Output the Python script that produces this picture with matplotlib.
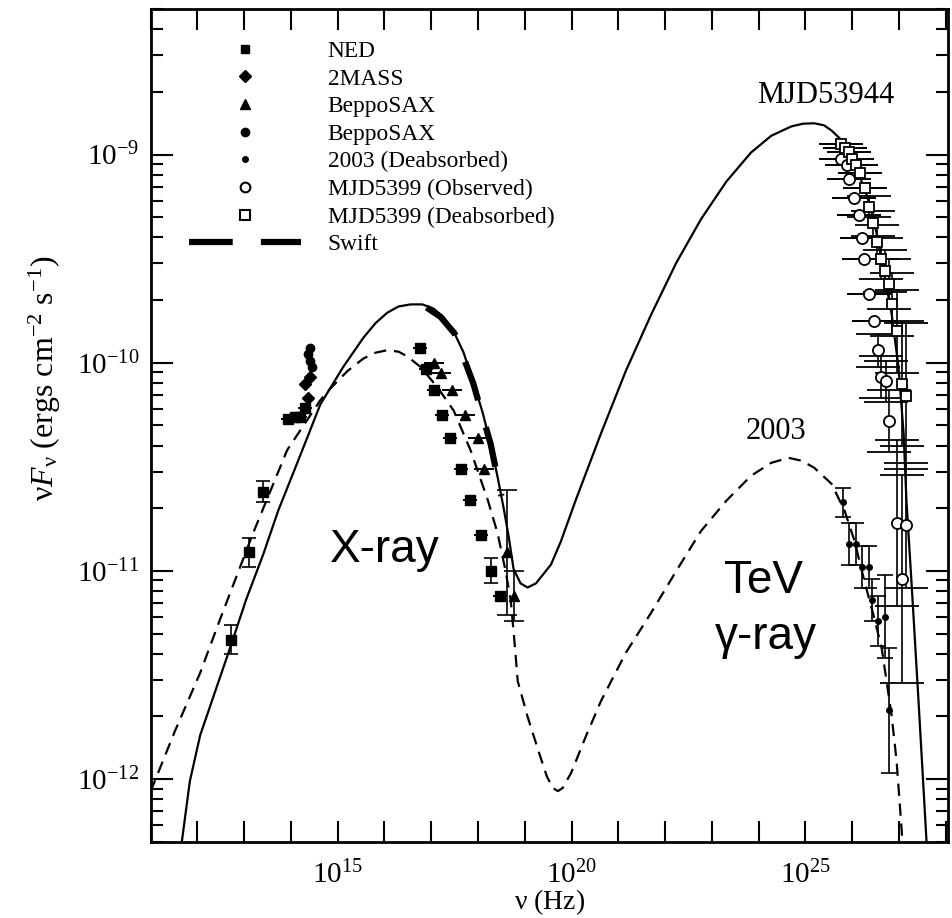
import numpy as np
import matplotlib
matplotlib.use("Agg")
import matplotlib.pyplot as plt
from matplotlib.lines import Line2D
from matplotlib.ticker import FixedLocator, NullLocator, LogLocator, FixedFormatter, NullFormatter

plt.rcParams['font.family'] = ['Liberation Serif', 'DejaVu Serif']
plt.rcParams['mathtext.fontset'] = 'custom'
plt.rcParams['mathtext.rm'] = 'Liberation Serif'
plt.rcParams['mathtext.it'] = 'Liberation Serif:italic'
plt.rcParams['mathtext.bf'] = 'Liberation Serif:bold'

# all values are log10(nu / Hz) and log10(nuFnu / erg cm^-2 s^-1)

# model MJD53944 (solid)
mjd_lognu = [11.58, 11.84, 12.06, 12.38, 12.70, 13.04, 13.41, 13.73, 14.05, 14.35,
             14.63, 15.12, 15.55, 15.81, 16.06, 16.30, 16.56, 16.81, 17.05, 17.26,
             17.48, 17.69, 17.91, 18.10, 18.27, 18.42, 18.55, 18.66, 18.76, 18.91,
             19.06, 19.24, 19.56, 19.77, 20.09, 20.63, 21.16, 21.70, 22.24, 22.77,
             23.31, 23.84, 24.27, 24.70, 24.95, 25.19, 25.40, 25.56, 25.77, 25.99,
             26.13, 26.29, 26.41, 26.52, 26.63, 26.73, 26.84, 26.99, 27.10, 27.16,
             27.27, 27.42, 27.59, 27.61]
mjd_logf = [-12.45, -12.01, -11.79, -11.58, -11.37, -11.14, -10.92, -10.71, -10.53, -10.36,
            -10.20, -10.02, -9.88, -9.81, -9.76, -9.73, -9.72, -9.72, -9.74, -9.78,
            -9.85, -9.95, -10.10, -10.24, -10.39, -10.55, -10.70, -10.84, -10.99, -11.06,
            -11.08, -11.06, -10.97, -10.86, -10.66, -10.34, -10.04, -9.77, -9.52, -9.31,
            -9.13, -8.99, -8.91, -8.865, -8.852, -8.85, -8.86, -8.885, -8.93, -9.005,
            -9.09, -9.18, -9.27, -9.375, -9.51, -9.63, -9.76, -10.02, -10.34, -10.66,
            -11.06, -11.63, -12.30, -12.44]

# model 2003 (dashed)
y03_lognu = [11.00, 11.52, 12.06, 12.49, 13.19, 13.92, 14.63, 14.84, 15.21, 15.55,
             15.81, 16.06, 16.30, 16.49, 16.77, 17.14, 17.48, 17.84, 18.21, 18.42,
             18.59, 18.70, 18.78, 18.85, 19.06, 19.28, 19.47, 19.60, 19.71, 19.81,
             19.99, 20.31, 20.63, 21.16, 21.70, 22.24, 22.77, 23.31, 23.84, 24.27,
             24.64, 24.92, 25.19, 25.56, 25.84, 26.05, 26.26, 26.46, 26.63, 26.84,
             26.95, 27.06, 27.10]
y03_logf = [-12.06, -11.77, -11.49, -11.23, -10.82, -10.42, -10.18, -10.125, -10.04, -9.98,
            -9.952, -9.94, -9.947, -9.97, -10.02, -10.12, -10.23, -10.42, -10.66, -10.82,
            -11.00, -11.14, -11.34, -11.53, -11.70, -11.856, -11.986, -12.043, -12.058, -12.043,
            -11.971, -11.793, -11.625, -11.394, -11.202, -11.00, -10.808, -10.663, -10.543, -10.481,
            -10.457, -10.471, -10.505, -10.582, -10.712, -10.856, -11.048, -11.216, -11.37, -11.688,
            -11.913, -12.25, -12.44]

# NED
ned_lognu = [12.72, 13.11, 13.40, 13.94, 14.09, 14.20, 14.31, 16.77, 16.88, 17.06,
             17.24, 17.41, 17.63, 17.84, 18.06, 18.27, 18.48]
ned_logf = [-11.33, -10.91, -10.62, -10.27, -10.26, -10.26, -10.22, -9.93, -10.03, -10.13,
            -10.25, -10.36, -10.51, -10.66, -10.83, -11.00, -11.12]
ned_err = [0.07, 0.07, 0.05, 0, 0, 0, 0, 0, 0, 0, 0, 0, 0, 0, 0, 0.06, 0]

# 2MASS
mass_lognu = [14.37, 14.31, 14.41]
mass_logf = [-10.17, -10.10, -10.07]

# BeppoSAX (triangles)
sax1_lognu = [17.06, 17.20, 17.45, 17.73, 17.99, 18.13, 18.63, 18.77]
sax1_logf = [-10.00, -10.05, -10.13, -10.25, -10.36, -10.51, -10.91, -11.12]
sax1_err = [0, 0, 0, 0, 0, 0, 0.3, 0.12]

# BeppoSAX (circles)
sax2_lognu = [14.46, 14.41, 14.37, 14.41]
sax2_logf = [-10.02, -9.99, -9.96, -9.93]

# 2003 (Deabsorbed)
d03_lognu = [25.81, 25.94, 26.09, 26.20, 26.35, 26.42, 26.56, 26.70, 26.78]
d03_logf = [-10.67, -10.87, -10.87, -10.98, -10.98, -11.14, -11.24, -11.22, -11.67]
d03_err = [0.07, 0.1, 0.1, 0.1, 0.1, 0.1, 0.12, 0.2, 0.3]

# MJD5399 (Observed)
obs_lognu = [25.77, 25.88, 25.94, 26.03, 26.14, 26.20, 26.26, 26.37, 26.46, 26.56,
             26.61, 26.73, 26.78, 26.95, 27.16, 27.06]
obs_logf = [-9.02, -9.05, -9.12, -9.21, -9.29, -9.40, -9.50, -9.67, -9.80, -9.94,
            -10.07, -10.09, -10.28, -10.77, -10.78, -11.04]
obs_err = [0, 0, 0, 0, 0, 0, 0, 0, 0, 0.08, 0.1, 0.1, 0.15, 0.4, 0.3, 0.5]

# MJD5399 (Deabsorbed)
dea_lognu = [25.77, 25.85, 25.93, 26.00, 26.08, 26.16, 26.27, 26.36, 26.45, 26.53,
             26.62, 26.70, 26.78, 26.86, 26.95, 27.06, 27.15]
dea_logf = [-8.95, -8.97, -8.99, -9.02, -9.05, -9.09, -9.16, -9.25, -9.33, -9.42,
            -9.50, -9.56, -9.62, -9.72, -9.85, -10.10, -10.16]
dea_err = [0, 0, 0, 0, 0, 0, 0, 0.05, 0.06, 0.08, 0.1, 0.1, 0.12, 0.15, 0.2, 0.3, 0.35]

# Swift (thick dashed along the model)
swift_lognu = [16.90, 17.20, 17.50, 17.90, 18.27, 18.50]
swift_logf = [-9.735, -9.78, -9.86, -10.10, -10.39, -10.64]

xtick_exp = list(range(11, 29))
xtick_lab = {15: r'$10^{15}$', 20: r'$10^{20}$', 25: r'$10^{25}$'}
ytick_exp = [-12, -11, -10, -9]


def p(a):
    return 10 ** np.asarray(a, dtype=float)


def yerr(logf, err):
    logf = np.asarray(logf)
    err = np.asarray(err)
    return [p(logf) - p(logf - err), p(logf + err) - p(logf)]


fig = plt.figure(figsize=(9.53, 9.18), dpi=100)
ax = fig.add_axes([0.158, 0.0831, 0.8368, 0.9071])
ax.set_xscale('log')
ax.set_yscale('log')

k = 'black'
ax.plot(p(mjd_lognu), p(mjd_logf), color=k, lw=1.6)
ax.plot(p(y03_lognu), p(y03_logf), color=k, lw=1.6, dashes=(5.5, 3.5))
ax.plot(p(swift_lognu), p(swift_logf), color=k, lw=4.5, dashes=(6.5, 4.5), solid_capstyle='butt')

eb = dict(color=k, ecolor=k, elinewidth=1.2, capthick=1.2, linestyle='none')
ax.errorbar(p(ned_lognu), p(ned_logf), yerr=yerr(ned_logf, ned_err), marker='s', ms=6.5,
            capsize=5, **eb)
ax.plot(p(mass_lognu), p(mass_logf), 'D', color=k, ms=6, ls='none')
ax.errorbar(p(sax1_lognu), p(sax1_logf), yerr=yerr(sax1_logf, sax1_err), marker='^', ms=6.5,
            capsize=7, **eb)
ax.plot(p(sax2_lognu), p(sax2_logf), 'o', color=k, ms=6, ls='none')
ax.errorbar(p(d03_lognu), p(d03_logf), yerr=yerr(d03_logf, d03_err), marker='o', ms=4,
            capsize=6, **eb)
ax.errorbar(p(obs_lognu), p(obs_logf), yerr=yerr(obs_logf, obs_err), marker='o', ms=8,
            mfc='white', mew=1.3, capsize=16, **eb)
ax.errorbar(p(dea_lognu), p(dea_logf), yerr=yerr(dea_logf, dea_err), marker='s', ms=7,
            mfc='white', mew=1.3, capsize=16, **eb)

ax.set_xlim(1e11, 10 ** 28.05)
ax.set_ylim(5e-13, 5e-9)

ax.xaxis.set_major_locator(FixedLocator(p(xtick_exp)))
ax.xaxis.set_major_formatter(FixedFormatter([xtick_lab.get(e, '') for e in xtick_exp]))
ax.xaxis.set_minor_locator(NullLocator())
ax.yaxis.set_major_locator(FixedLocator(p(ytick_exp)))
ax.yaxis.set_major_formatter(FixedFormatter([r'$10^{%d}$' % e for e in ytick_exp]))
ax.yaxis.set_minor_locator(LogLocator(base=10, subs=np.arange(2, 10)))
ax.yaxis.set_minor_formatter(NullFormatter())

ax.tick_params(which='both', direction='in', top=True, right=True, width=1.5, labelsize=21)
ax.tick_params(axis='x', which='major', length=15, pad=14)
ax.tick_params(axis='y', which='major', length=16, pad=8)
ax.tick_params(axis='y', which='minor', length=8.5)
for s in ax.spines.values():
    s.set_linewidth(2)

ax.set_xlabel(r'$\mathrm{\nu}$ (Hz)', fontsize=20, labelpad=-2)
ax.set_ylabel(r'$\mathrm{\nu}F_{\mathrm{\nu}}$ (ergs cm$^{-2}$ s$^{-1}$)', fontsize=23)
ax.yaxis.set_label_coords(-0.110, 0.556)

ax.text(10 ** 25.44, 10 ** -8.716, 'MJD53944', fontsize=22, ha='center', va='center')
ax.text(10 ** 24.38, 10 ** -10.33, '2003', fontsize=22, ha='center', va='center')
sans = ['Liberation Sans', 'DejaVu Sans']
ax.text(10 ** 16.0, 10 ** -10.9, 'X-ray', fontsize=33, family=sans, ha='center', va='center')
ax.text(10 ** 24.1, 10 ** -11.05, 'TeV', fontsize=33, family=sans, ha='center', va='center')
ax.text(10 ** 24.15, 10 ** -11.32, 'γ-ray', fontsize=33, family=sans, ha='center', va='center')

handles = [
    Line2D([], [], ls='none', marker='s', ms=6, color=k),
    Line2D([], [], ls='none', marker='D', ms=6, color=k),
    Line2D([], [], ls='none', marker='^', ms=7, color=k),
    Line2D([], [], ls='none', marker='o', ms=6, color=k),
    Line2D([], [], ls='none', marker='o', ms=4, color=k),
    Line2D([], [], ls='none', marker='o', ms=7, color=k, mfc='white', mew=1.5),
    Line2D([], [], ls='none', marker='s', ms=7, color=k, mfc='white', mew=1.5),
    Line2D([], [], color=k, lw=4.5, dashes=(7, 4.5)),
]
labels = ['NED', '2MASS', 'BeppoSAX', 'BeppoSAX', '2003 (Deabsorbed)',
          'MJD5399 (Observed)', 'MJD5399 (Deabsorbed)', 'Swift']
ax.legend(handles, labels, loc='upper left', bbox_to_anchor=(0.048, 0.962), frameon=False,
          fontsize=16.8, handlelength=4.8, handletextpad=1.15, labelspacing=0.27,
          borderpad=0, borderaxespad=0, numpoints=1)

fig.savefig('out.png', dpi=100)
